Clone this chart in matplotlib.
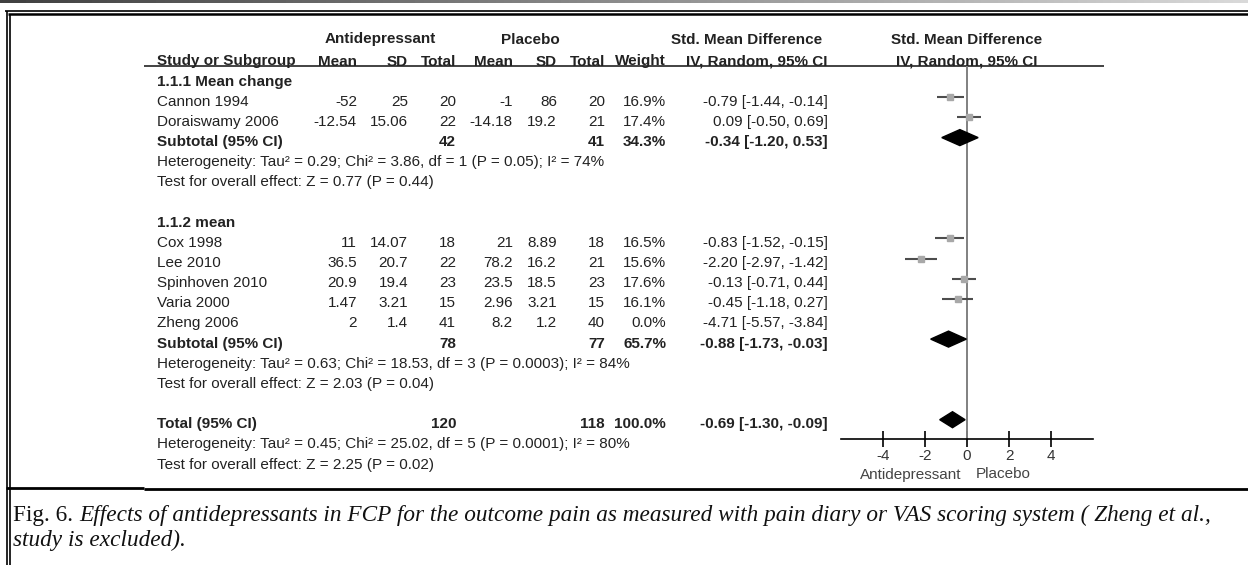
import numpy as np
import matplotlib.pyplot as plt
from matplotlib.patches import Polygon

plt.rcParams['font.family'] = ['Liberation Sans', 'DejaVu Sans']

# studies (weight 0 = excluded, not drawn)
studies = ['Cannon 1994', 'Doraiswamy 2006', 'Cox 1998', 'Lee 2010',
           'Spinhoven 2010', 'Varia 2000', 'Zheng 2006']
group = [0, 0, 1, 1, 1, 1, 1]
a_mean = [-52, -12.54, 11, 36.5, 20.9, 1.47, 2]
a_sd = [25, 15.06, 14.07, 20.7, 19.4, 3.21, 1.4]
a_n = [20, 22, 18, 22, 23, 15, 41]
p_mean = [-1, -14.18, 21, 78.2, 23.5, 2.96, 8.2]
p_sd = [86, 19.2, 8.89, 16.2, 18.5, 3.21, 1.2]
p_n = [20, 21, 18, 21, 23, 15, 40]
weight = [16.9, 17.4, 16.5, 15.6, 17.6, 16.1, 0.0]
smd = [-0.79, 0.09, -0.83, -2.20, -0.13, -0.45, -4.71]
smd_lo = [-1.44, -0.50, -1.52, -2.97, -0.71, -1.18, -5.57]
smd_hi = [-0.14, 0.69, -0.15, -1.42, 0.44, 0.27, -3.84]

# subgroups
group_titles = ['1.1.1 Mean change', '1.1.2 mean']
sub_a_n = [42, 78]
sub_p_n = [41, 77]
sub_weight = [34.3, 65.7]
sub_smd = [-0.34, -0.88]
sub_lo = [-1.20, -1.73]
sub_hi = [0.53, -0.03]
sub_het = ['Heterogeneity: Tau\u00b2 = 0.29; Chi\u00b2 = 3.86, df = 1 (P = 0.05); I\u00b2 = 74%',
           'Heterogeneity: Tau\u00b2 = 0.63; Chi\u00b2 = 18.53, df = 3 (P = 0.0003); I\u00b2 = 84%']
sub_test = ['Test for overall effect: Z = 0.77 (P = 0.44)',
            'Test for overall effect: Z = 2.03 (P = 0.04)']

# overall
tot_a_n, tot_p_n = 120, 118
tot_weight = 100.0
tot_smd, tot_lo, tot_hi = -0.69, -1.30, -0.09
tot_het = 'Heterogeneity: Tau\u00b2 = 0.45; Chi\u00b2 = 25.02, df = 5 (P = 0.0001); I\u00b2 = 80%'
tot_test = 'Test for overall effect: Z = 2.25 (P = 0.02)'

axis_ticks = [-4, -2, 0, 2, 4]
axis_left, axis_right = 'Antidepressant', 'Placebo'
caption_head = 'Fig. 6. '
caption_1 = 'Effects of antidepressants in FCP for the outcome pain as measured with pain diary or VAS scoring system ( Zheng et al.,'
caption_2 = 'study is excluded).'

W, H = 1248, 565
fig = plt.figure(figsize=(W / 100, H / 100), dpi=100)
bg = fig.add_axes([0, 0, 1, 1])
bg.set_xlim(0, W)
bg.set_ylim(H, 0)
bg.axis('off')

# forest axes, x in effect units from -6 to 6 (px 841..1093)
ax = fig.add_axes([841 / W, 0, 252 / W, 1])
ax.set_xlim(-6, 6)
ax.set_ylim(H, 0)
ax.patch.set_visible(False)

fs = 11
tc = '#222222'
# column right edges
c_study = 157
c_am, c_asd, c_an = 357, 408, 456
c_pm, c_psd, c_pn = 513, 557, 605
c_w, c_ci = 666, 828


def rowy(r):
    return 60 + 20.15 * r


def base(r):
    return rowy(r) + 5.5


# frame
grad = np.linspace(0.25, 0.85, 256).reshape(1, -1)
bg.imshow(grad, cmap='gray', vmin=0, vmax=1, extent=(0, W, 3, 0), aspect='auto')
bg.hlines([11.3], 5, W, color='black', lw=1.2)
bg.hlines([14.2], 8, W, color='black', lw=1.8)
bg.vlines([6.5], 11, H, color='black', lw=1.2)
bg.vlines([10], 14, H, color='black', lw=1.2)
bg.hlines([488], 6, 144, color='black', lw=2.0)
bg.hlines([489], 144, W, color='black', lw=2.0)

# headers
hb = dict(fontsize=fs, fontweight='bold', color=tc, va='baseline')
bg.text(380, 38 + 5.5, 'Antidepressant', ha='center', **hb)
bg.text(530, 38 + 5.5, 'Placebo', ha='center', **hb)
bg.text(747, 38 + 5.5, 'Std. Mean Difference', ha='center', **hb)
ax.text(0, 38 + 5.5, 'Std. Mean Difference', ha='center', **hb)
bg.text(c_study, base(0), 'Study or Subgroup', ha='left', **hb)
for x, s in [(c_am, 'Mean'), (c_asd, 'SD'), (c_an, 'Total'), (c_pm, 'Mean'),
             (c_psd, 'SD'), (c_pn, 'Total'), (c_w, 'Weight'), (c_ci, 'IV, Random, 95% CI')]:
    bg.text(x, base(0), s, ha='right', **hb)
ax.text(0, base(0), 'IV, Random, 95% CI', ha='center', **hb)
bg.hlines(66, 144, 1104, color='#222222', lw=1.2)


def ci_str(e, lo, hi):
    return f'{e:.2f} [{lo:.2f}, {hi:.2f}]'


def diamond(e, lo, hi, y):
    ax.add_patch(Polygon([(lo, y), (e, y - 8), (hi, y), (e, y + 8)],
                         closed=True, color='black', zorder=4))


r = 1
for g in range(len(group_titles)):
    bg.text(c_study, base(r), group_titles[g], ha='left', **hb)
    r += 1
    idx = [i for i in range(len(studies)) if group[i] == g]
    for i in idx:
        kw = dict(fontsize=fs, color=tc, va='baseline', ha='right')
        bg.text(c_study, base(r), studies[i], fontsize=fs, color=tc, va='baseline', ha='left')
        bg.text(c_am, base(r), f'{a_mean[i]:g}', **kw)
        bg.text(c_asd, base(r), f'{a_sd[i]:g}', **kw)
        bg.text(c_an, base(r), f'{a_n[i]}', **kw)
        bg.text(c_pm, base(r), f'{p_mean[i]:g}', **kw)
        bg.text(c_psd, base(r), f'{p_sd[i]:g}', **kw)
        bg.text(c_pn, base(r), f'{p_n[i]}', **kw)
        bg.text(c_w, base(r), f'{weight[i]:.1f}%', **kw)
        bg.text(c_ci, base(r), ci_str(smd[i], smd_lo[i], smd_hi[i]), **kw)
        if weight[i] > 0:
            y = rowy(r) - 3
            ax.hlines(y, smd_lo[i], smd_hi[i], color='#4d4d4d', lw=1.5, zorder=3)
            ax.plot(smd[i], y, 's', ms=4.3 * np.sqrt(weight[i] / 16.5),
                    color='#a8a8a8', mec='#a8a8a8', zorder=4)
        r += 1
    bg.text(c_study, base(r), 'Subtotal (95% CI)', ha='left', **hb)
    bg.text(c_an, base(r), f'{sub_a_n[g]}', ha='right', **hb)
    bg.text(c_pn, base(r), f'{sub_p_n[g]}', ha='right', **hb)
    bg.text(c_w, base(r), f'{sub_weight[g]:.1f}%', ha='right', **hb)
    bg.text(c_ci, base(r), ci_str(sub_smd[g], sub_lo[g], sub_hi[g]), ha='right', **hb)
    diamond(sub_smd[g], sub_lo[g], sub_hi[g], rowy(r) - 3)
    r += 1
    bg.text(c_study, base(r), sub_het[g], fontsize=fs, color=tc, va='baseline')
    r += 1
    bg.text(c_study, base(r), sub_test[g], fontsize=fs, color=tc, va='baseline')
    r += 2

bg.text(c_study, base(r), 'Total (95% CI)', ha='left', **hb)
bg.text(c_an, base(r), f'{tot_a_n}', ha='right', **hb)
bg.text(c_pn, base(r), f'{tot_p_n}', ha='right', **hb)
bg.text(c_w, base(r), f'{tot_weight:.1f}%', ha='right', **hb)
bg.text(c_ci, base(r), ci_str(tot_smd, tot_lo, tot_hi), ha='right', **hb)
diamond(tot_smd, tot_lo, tot_hi, rowy(r) - 3)
r += 1
bg.text(c_study, base(r), tot_het, fontsize=fs, color=tc, va='baseline')
r += 1
bg.text(c_study, base(r), tot_test, fontsize=fs, color=tc, va='baseline')

# forest axis
axis_y = 439
ax.vlines(0, 66, axis_y, color='#808080', lw=1.4, zorder=2)
for s in ['top', 'left', 'right']:
    ax.spines[s].set_visible(False)
ax.spines['bottom'].set_position(('data', axis_y))
ax.spines['bottom'].set_linewidth(1.2)
ax.set_yticks([])
ax.set_xticks(axis_ticks)
ax.set_xticklabels([str(t) for t in axis_ticks])
ax.tick_params(axis='x', direction='inout', length=11, width=1.2, pad=2,
               labelsize=fs, labelcolor='#333333')
ax.text(-0.25, 473 + 5.5, axis_left, ha='right', va='baseline', fontsize=fs, color='#444444')
ax.text(0.4, 473 + 5.5, axis_right, ha='left', va='baseline', fontsize=fs, color='#444444')

# caption, sized so the first line spans the box
serif = ['Liberation Serif', 'DejaVu Serif']
rend = fig.canvas.get_renderer()
t0 = bg.text(13, 521, caption_head, fontsize=15, family=serif, va='baseline', color='#111111')
t1 = bg.text(13, 521, caption_1, fontsize=15, family=serif, style='italic',
             va='baseline', color='#111111')
w0 = t0.get_window_extent(rend).width
w1 = t1.get_window_extent(rend).width
cs = 15 * 1200 / (w0 + w1)
t0.set_fontsize(cs)
t1.set_fontsize(cs)
w0 = t0.get_window_extent(rend).width
t1.set_x(13 + w0)
bg.text(13, 546, caption_2, fontsize=cs, family=serif, style='italic',
        va='baseline', color='#111111')

fig.savefig('out.png', dpi=100)
